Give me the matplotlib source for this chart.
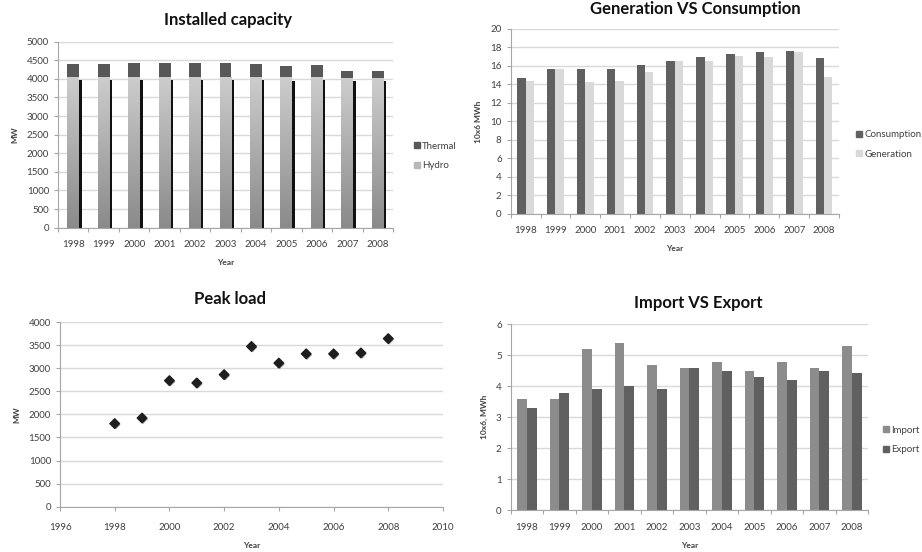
import numpy as np
import matplotlib
matplotlib.use("Agg")
import matplotlib.pyplot as plt
import matplotlib.patheffects as pe
from matplotlib.lines import Line2D
from matplotlib.colors import LinearSegmentedColormap

plt.rcParams['font.family'] = ['Lato', 'DejaVu Sans']

years = [1998, 1999, 2000, 2001, 2002, 2003, 2004, 2005, 2006, 2007, 2008]
year_labels = [str(y) for y in years]

# Installed capacity, MW
hydro = [4060, 4060, 4060, 4060, 4060, 4060, 4060, 4040, 4060, 4030, 4030]
thermal = [340, 330, 380, 380, 380, 380, 350, 320, 310, 190, 190]

# Generation vs consumption, 10x6 MWh
consumption = [14.7, 15.6, 15.6, 15.7, 16.1, 16.5, 16.9, 17.3, 17.5, 17.6, 16.8]
generation = [14.4, 15.7, 14.2, 14.4, 15.3, 16.5, 16.5, 17.1, 16.9, 17.5, 14.8]

# Peak load, MW
peak_load = [1800, 1920, 2730, 2680, 2860, 3470, 3110, 3310, 3310, 3330, 3640]

# Import vs export, 10x6 MWh
imports = [3.6, 3.6, 5.2, 5.4, 4.7, 4.6, 4.8, 4.5, 4.8, 4.6, 5.3]
exports = [3.3, 3.8, 3.9, 4.0, 3.9, 4.6, 4.5, 4.3, 4.2, 4.5, 4.42]

W, H = 922, 552
fig = plt.figure(figsize=(W / 100, H / 100), dpi=100)

TXT = '#404040'
GRID = '#d9d9d9'
AX = '#a6a6a6'


def make_axes(x0, y0, x1, y1):
    return fig.add_axes([x0 / W, 1 - y1 / H, (x1 - x0) / W, (y1 - y0) / H])


def style(ax, title, ylabel, title_x, title_y):
    for s in ('top', 'right'):
        ax.spines[s].set_visible(False)
    for s in ('left', 'bottom'):
        ax.spines[s].set_color(AX)
        ax.spines[s].set_linewidth(0.8)
    ax.set_axisbelow(True)
    ax.yaxis.grid(True, color=GRID, linewidth=1.0)
    ax.tick_params(axis='both', which='major', labelsize=7, colors=AX,
                   labelcolor=TXT, length=3, width=0.8, direction='out')
    ax.set_ylabel(ylabel, fontsize=6, fontweight='bold', color=TXT, labelpad=6)
    ax.set_xlabel('Year', fontsize=6, fontweight='bold', color=TXT, labelpad=7)
    fig.text(title_x / W, 1 - title_y / H, title, ha='center',
             va='center', fontsize=12, fontweight='bold', color='#111111')


def category_axis(ax):
    n = len(years)
    ax.set_xlim(-0.5, n - 0.5)
    ax.set_xticks(np.arange(-0.5, n, 1.0))
    ax.set_xticklabels([])
    ax.set_xticks(np.arange(n), minor=True)
    ax.set_xticklabels(year_labels, minor=True)
    ax.tick_params(axis='x', which='minor', length=0, labelsize=7,
                   labelcolor=TXT, pad=9)


def legend(ax, handles, labels, x, y):
    leg = ax.legend(handles, labels, loc='center left',
                    bbox_to_anchor=(x, y), frameon=False, fontsize=7,
                    handlelength=0.6, handletextpad=0.3, labelspacing=1.1,
                    borderaxespad=0)
    for t in leg.get_texts():
        t.set_color(TXT)


def square(color):
    return Line2D([], [], marker='s', linestyle='none', markersize=4.5,
                  markerfacecolor=color, markeredgecolor=color)


x = np.arange(len(years))

# --- Installed capacity ---
ax1 = make_axes(58, 41.7, 393, 227.7)
style(ax1, 'Installed capacity', 'MW', 228, 20)
category_axis(ax1)
ax1.set_ylim(0, 5000)
ax1.set_yticks(np.arange(0, 5001, 500))
bw = 0.39
hydro_cmap = LinearSegmentedColormap.from_list('hydro', ['#8a8a8a', '#cdcdcd'])
hb = ax1.bar(x, hydro, bw, color='#b0b0b0', zorder=2)
gradient = np.linspace(0, 1, 256).reshape(-1, 1)
for bar in hb:
    bar.set_path_effects([pe.SimplePatchShadow(offset=(1.8, -2.5),
                                               shadow_rgbFace='#111111',
                                               alpha=1.0), pe.Normal()])
    bx, by = bar.get_x(), bar.get_y()
    im = ax1.imshow(gradient, cmap=hydro_cmap, vmin=0, vmax=1,
                    extent=[bx, bx + bar.get_width(), by, by + bar.get_height()],
                    origin='lower', aspect='auto', zorder=3)
    im.set_clip_path(bar)
ax1.bar(x, thermal, bw, bottom=hydro, color='#585858', zorder=4)
ax1.set_xlim(-0.5, len(years) - 0.5)
ax1.set_ylim(0, 5000)
legend(ax1, [square('#585858'), square('#b8b8b8')], ['Thermal', 'Hydro'],
       1.05, 0.385)

# --- Generation VS Consumption ---
ax2 = make_axes(510.7, 28.7, 839, 214)
style(ax2, 'Generation VS Consumption', '10x6 MWh', 695, 9)
category_axis(ax2)
ax2.set_ylim(0, 20)
ax2.set_yticks(np.arange(0, 21, 2))
w2 = 0.28
ax2.bar(x - w2 / 2, consumption, w2, color='#606060', zorder=2)
ax2.bar(x + w2 / 2, generation, w2, color='#d9d9d9', zorder=2)
legend(ax2, [square('#606060'), square('#d9d9d9')],
       ['Consumption', 'Generation'], 1.04, 0.376)

# --- Peak load ---
ax3 = make_axes(60, 322, 443, 506.7)
style(ax3, 'Peak load', 'MW', 230, 299)
ax3.set_xlim(1996, 2010)
ax3.set_xticks(np.arange(1996, 2011, 2))
ax3.set_ylim(0, 4000)
ax3.set_yticks(np.arange(0, 4001, 500))
ax3.tick_params(axis='x', pad=9)
ax3.scatter(years, peak_load, marker='D', s=24, color='#1e1e1e', zorder=3,
            path_effects=[pe.SimplePatchShadow(offset=(0.8, -0.8), alpha=0.35),
                          pe.Normal()])

# --- Import VS Export ---
ax4 = make_axes(510.7, 324.3, 868, 510.3)
style(ax4, 'Import VS Export', '10x6, MWh', 698, 303)
category_axis(ax4)
ax4.set_ylim(0, 6)
ax4.set_yticks(np.arange(0, 7, 1))
w4 = 0.3
ax4.bar(x - w4 / 2, imports, w4, color='#8c8c8c', zorder=2)
ax4.bar(x + w4 / 2, exports, w4, color='#606060', zorder=2)
legend(ax4, [square('#8c8c8c'), square('#606060')], ['Import', 'Export'],
       1.03, 0.378)

fig.savefig('out.png', dpi=100, facecolor='white')
